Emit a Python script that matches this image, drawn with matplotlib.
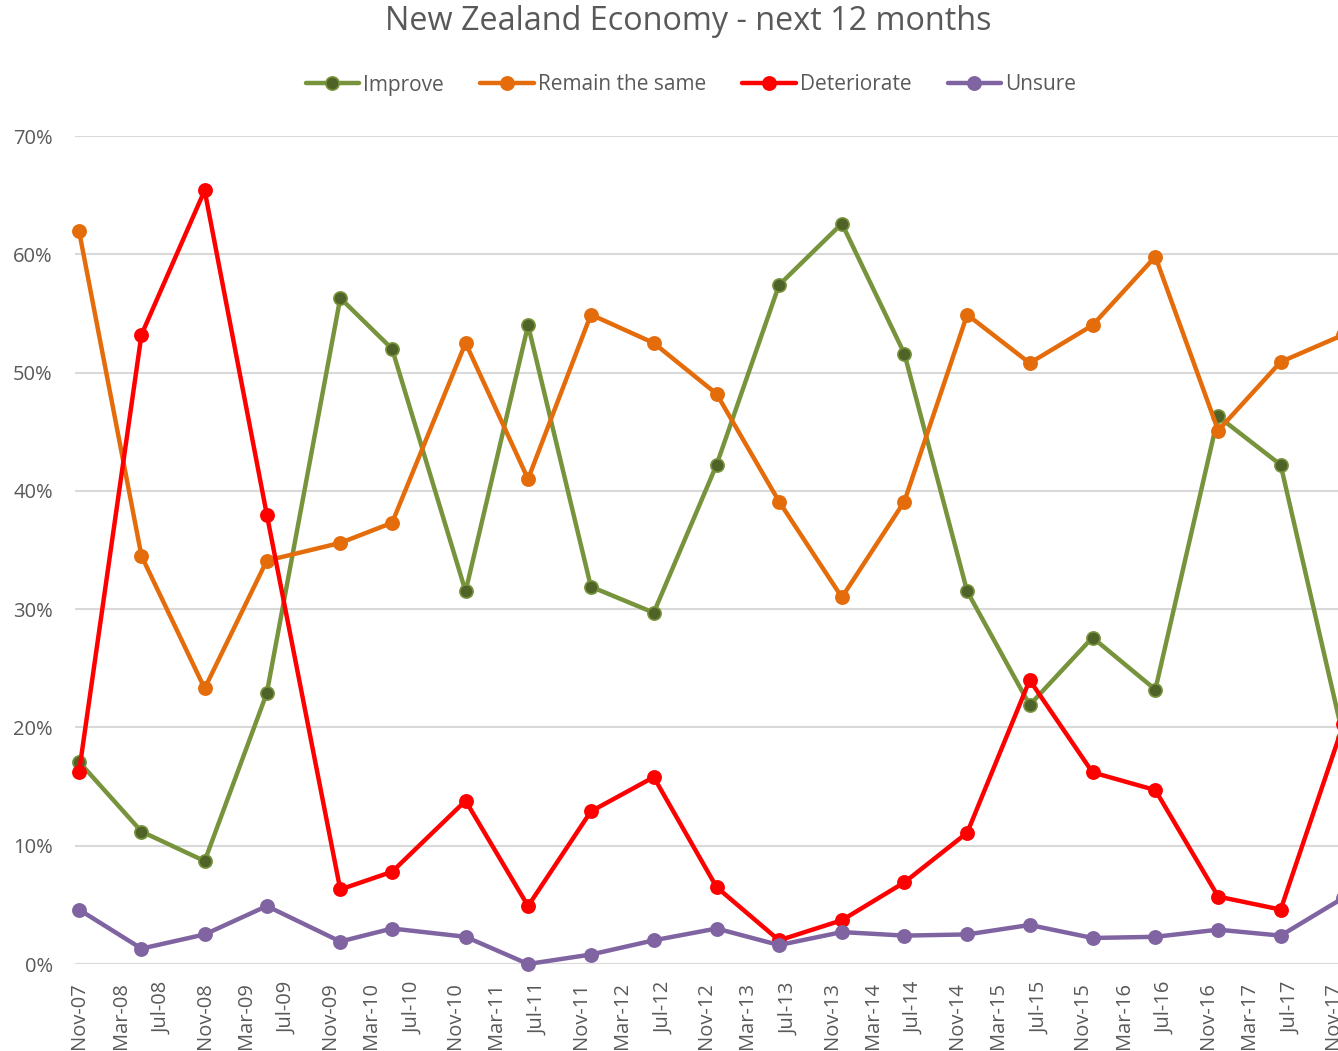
import datetime as dt
import matplotlib
matplotlib.use("Agg")
import matplotlib.pyplot as plt
import matplotlib.dates as mdates
from matplotlib.ticker import FuncFormatter, MultipleLocator

plt.rcParams['font.family'] = ['Open Sans', 'DejaVu Sans']

dates = ["2007-11", "2008-05", "2008-11", "2009-05", "2009-12", "2010-05", "2010-12",
         "2011-06", "2011-12", "2012-06", "2012-12", "2013-06", "2013-12", "2014-06",
         "2014-12", "2015-06", "2015-12", "2016-06", "2016-12", "2017-06", "2017-12"]
improve = [17.1, 11.2, 8.7, 22.9, 56.3, 52.0, 31.5, 54.0, 31.9, 29.7, 42.2, 57.4, 62.6,
           51.6, 31.5, 21.9, 27.6, 23.2, 46.3, 42.2, 19.1]
remain = [62.0, 34.5, 23.3, 34.1, 35.6, 37.3, 52.5, 41.0, 54.9, 52.5, 48.2, 39.1, 31.0,
          39.1, 54.9, 50.8, 54.0, 59.8, 45.1, 50.9, 53.2]
deteriorate = [16.2, 53.2, 65.4, 38.0, 6.3, 7.8, 13.8, 4.9, 12.9, 15.8, 6.5, 2.0, 3.7,
               6.9, 11.1, 24.0, 16.2, 14.7, 5.7, 4.6, 20.3]
unsure = [4.6, 1.3, 2.5, 4.9, 1.9, 3.0, 2.3, 0.0, 0.8, 2.0, 3.0, 1.6, 2.7, 2.4, 2.5,
          3.3, 2.2, 2.3, 2.9, 2.4, 5.6]

series = [
    ("Improve", improve, "#77933c", "#4f6228"),
    ("Remain the same", remain, "#e46c0a", "#e46c0a"),
    ("Deteriorate", deteriorate, "#ff0000", "#ff0000"),
    ("Unsure", unsure, "#8064a2", "#8064a2"),
]

x = [dt.datetime.strptime(d, "%Y-%m") for d in dates]

W, H = 1338, 1051
fig = plt.figure(figsize=(W / 100, H / 100), dpi=100)
ax = fig.add_axes([75 / W, 87 / H, (W - 75) / W, 828 / H])

for name, vals, col, face in series:
    ax.plot(x, vals, color=col, lw=3.2, marker="o", markersize=9.5,
            markerfacecolor=face, markeredgecolor=col, markeredgewidth=1.2,
            label=name, clip_on=False, zorder=3, solid_capstyle="round")

start = dt.datetime(2007, 11, 1)
ax.set_xlim(start - dt.timedelta(days=11.6), start + dt.timedelta(days=3667))
ax.set_ylim(0, 70)

ax.yaxis.set_major_locator(MultipleLocator(10))
ax.yaxis.set_major_formatter(FuncFormatter(lambda v, p: f"{int(round(v))}%"))
ax.xaxis.set_major_locator(mdates.MonthLocator(bymonth=[3, 7, 11]))
ax.xaxis.set_major_formatter(mdates.DateFormatter("%b-%y"))

ax.grid(axis="y", color="#d9d9d9", lw=1.5, zorder=0)
ax.set_axisbelow(True)
for s in ax.spines.values():
    s.set_visible(False)
ax.tick_params(axis="both", length=0, colors="#595959", labelsize=14.5)
ax.tick_params(axis="y", pad=16)
ax.tick_params(axis="x", pad=13)
for lab in ax.get_xticklabels():
    lab.set_rotation(90)

fig.text(688 / W, 1 - 22 / H, "New Zealand Economy - next 12 months", ha="center",
         va="center", fontsize=23.3, color="#595959")

leg = fig.legend(loc="center", bbox_to_anchor=(691 / W, 1 - 85 / H), ncol=4,
                 frameon=False, fontsize=15, handlelength=2.55, handletextpad=0.2,
                 columnspacing=1.75)
for t in leg.get_texts():
    t.set_color("#595959")

fig.savefig("out.png", dpi=100)
